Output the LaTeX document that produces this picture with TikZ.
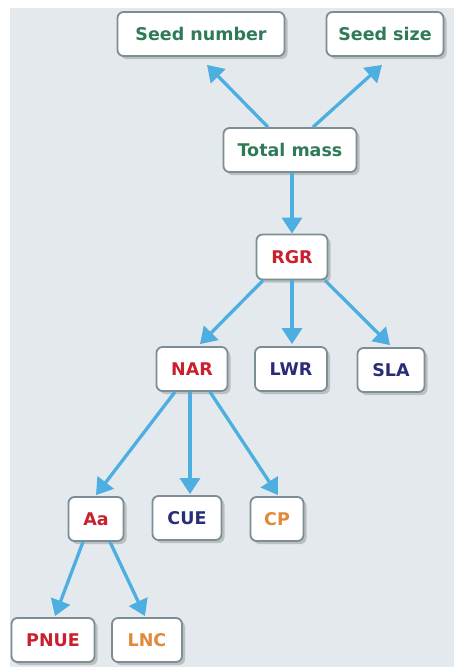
\documentclass[tikz,border=0pt]{standalone}
\usepackage{fontspec}
\setmainfont{DejaVu Sans}
\usetikzlibrary{arrows.meta,shadows,calc}
\definecolor{bgc}{HTML}{E3E9EC}
\definecolor{boxline}{HTML}{7C8D95}
\definecolor{arrc}{HTML}{4DAEE2}
\definecolor{tgreen}{HTML}{2F7B57}
\definecolor{tred}{HTML}{C8202E}
\definecolor{tnavy}{HTML}{2B2C78}
\definecolor{torange}{HTML}{E0893A}
\tikzset{
  box/.style={draw=boxline, line width=1.8pt, fill=white, rounded corners=6pt,
    minimum height=44pt, inner sep=0pt,
    font=\fontsize{17.5}{20}\selectfont\bfseries,
    drop shadow={shadow xshift=3pt, shadow yshift=-3pt, fill=black!45, opacity=0.45}},
  arr/.style={draw=arrc, line width=3.3pt, -{Triangle[length=16pt,width=20pt]}},
}
\begin{document}
\begin{tikzpicture}[x=1pt,y=-1pt]
\useasboundingbox (0,0) rectangle (454,667);
\fill[white] (0,0) rectangle (454,667);
\fill[bgc] (10,8) rectangle (454,667);
% nodes
\node[box, minimum width=167pt, text=tgreen] (sn) at (201,34) {Seed number};
\node[box, minimum width=117pt, text=tgreen] (ss) at (385,34) {Seed size};
\node[box, minimum width=133pt, text=tgreen] (tm) at (290,150) {Total mass};
\node[box, minimum width=71pt, minimum height=45pt, text=tred] (rgr) at (292,257) {RGR};
\node[box, minimum width=71pt, text=tred] (nar) at (192,369) {NAR};
\node[box, minimum width=72pt, text=tnavy] (lwr) at (291,369) {LWR};
\node[box, minimum width=67pt, text=tnavy] (sla) at (391,370) {SLA};
\node[box, minimum width=55pt, text=tred] (aa) at (96,519) {Aa};
\node[box, minimum width=69pt, text=tnavy] (cue) at (187,518) {CUE};
\node[box, minimum width=53pt, text=torange] (cp) at (277,519) {CP};
\node[box, minimum width=83pt, text=tred] (pnue) at (53,640) {PNUE};
\node[box, minimum width=70pt, text=torange] (lnc) at (147,640) {LNC};
% arrows
\draw[arr] ($(tm.north)+(-22,0)$) -- ($(sn.south)+(6,8)$);
\draw[arr] ($(tm.north)+(23,0)$) -- ($(ss.south)+(-3,8)$);
\draw[arr] ($(tm.south)+(2,0)$) -- (rgr.north);
\draw[arr] ($(rgr.south)+(-29,0)$) -- ($(nar.north)+(8,-2)$);
\draw[arr] (rgr.south) -- ($(lwr.north)+(1,-2)$);
\draw[arr] ($(rgr.south)+(33,0)$) -- ($(sla.north)+(-1,-2)$);
\draw[arr] ($(nar.south)+(-17,0)$) -- ($(aa.north)+(0,-1)$);
\draw[arr] ($(nar.south)+(-2,0)$) -- ($(cue.north)+(3,-1)$);
\draw[arr] ($(nar.south)+(18,0)$) -- ($(cp.north)+(1,-1)$);
\draw[arr] ($(aa.south)+(-13,0)$) -- ($(pnue.north)+(2,-1)$);
\draw[arr] ($(aa.south)+(14,0)$) -- ($(lnc.north)+(-2,-1)$);
\end{tikzpicture}
\end{document}
